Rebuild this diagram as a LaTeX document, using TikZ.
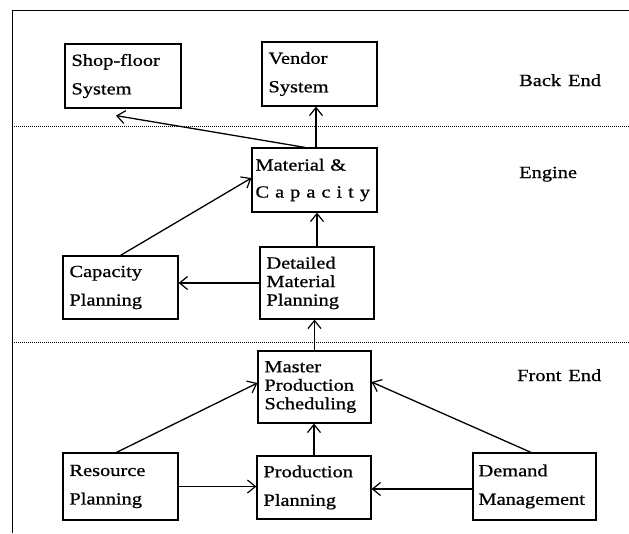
\documentclass[tikz,border=0pt]{standalone}
\usepackage{fontspec}
\setmainfont{Liberation Serif}[FakeStretch=1.2,FakeBold=0.8]
\usetikzlibrary{arrows.meta}
\tikzset{
  box/.style={draw, line width=1.2pt, inner xsep=6.5pt, inner ysep=0pt, align=left},
  twol/.style={font=\fontsize{17}{28.5}\selectfont},
  threel/.style={font=\fontsize{17}{18.5}\selectfont},
  lbl/.style={font=\fontsize{17}{20}\selectfont, anchor=base west, inner sep=0pt},
  arr/.style={line width=1.3pt, -{Straight Barb[length=8pt,width=13pt,line width=1.2pt]}},
  sep/.style={line width=0.8pt, dash pattern=on 1.2pt off 0.8pt},
}
\begin{document}
\begin{tikzpicture}[x=1pt,y=-1pt]
\useasboundingbox (0,0) rectangle (629,533);
% frame
\draw[line width=1pt] (12,533) -- (12,10) -- (629,10);
\draw[sep] (12,126) -- (629,126);
\draw[sep] (12,342) -- (629,342);
% boxes
\node[box,twol,minimum width=116pt,minimum height=64pt,text width=103pt] (shop) at (123,76) {Shop-floor\\System};
\node[box,twol,minimum width=115pt,minimum height=64pt,text width=102pt] (vendor) at (319.5,74) {Vendor\\System};
\node[box,font=\fontsize{17}{27}\selectfont,minimum width=125pt,minimum height=64pt,text width=118pt,inner xsep=3.5pt] (matcap) at (314.5,180) {Material \&\\C\hspace{6pt}a\hspace{6pt}p\hspace{6pt}a\hspace{6pt}c\hspace{6pt}i\hspace{6pt}t\hspace{6pt}y};
\node[box,twol,minimum width=115pt,minimum height=63pt,text width=102pt] (cap) at (120.5,287.5) {Capacity\\Planning};
\node[box,threel,minimum width=114pt,minimum height=72pt,text width=101pt] (det) at (317,283) {Detailed\\Material\\Planning};
\node[box,threel,minimum width=113pt,minimum height=72pt,text width=100pt] (mps) at (314.5,387) {Master\\Production\\Scheduling};
\node[box,twol,minimum width=115pt,minimum height=67pt,text width=102pt] (res) at (120.5,486.5) {Resource\\Planning};
\node[box,twol,minimum width=114pt,minimum height=63pt,text width=101pt] (prod) at (314,487.5) {Production\\Planning};
\node[box,twol,minimum width=123pt,minimum height=67pt,text width=112pt,inner xsep=5.5pt] (dem) at (534.5,486.5) {Demand\\Management};
% labels
\node[lbl] (backend) at (519,86) {Back\hspace{7pt}End};
\node[lbl] (engine) at (519,178) {Engine};
\node[lbl] (frontend) at (517,381) {Front\hspace{7pt}End};
% arrows
\draw[arr] ([xshift=-9.5pt]matcap.north) -- ([xshift=-7pt,yshift=-7pt]shop.south);
\draw[arr] ([xshift=1.5pt]matcap.north) -- ([xshift=1.5pt]matcap.north |- vendor.south);
\draw[arr] (cap.north) -- ([yshift=2pt]matcap.west);
\draw[arr] (det.north) -- (det.north |- matcap.south);
\draw[arr] (det.west) -- (det.west -| cap.east);
\draw[arr] (mps.north) -- (mps.north |- det.south);
\draw[arr] ([xshift=-4pt]res.north) -- ([yshift=4pt]mps.west);
\draw[arr] (prod.north) -- (prod.north |- mps.south);
\draw[arr] ([xshift=-3.5pt]dem.north) -- ([yshift=5pt]mps.east);
\draw[arr] (res.east) -- (res.east -| prod.west);
\draw[arr] ([yshift=-2.5pt]dem.west) -- ([yshift=-2.5pt]dem.west -| prod.east);
\end{tikzpicture}
\end{document}
